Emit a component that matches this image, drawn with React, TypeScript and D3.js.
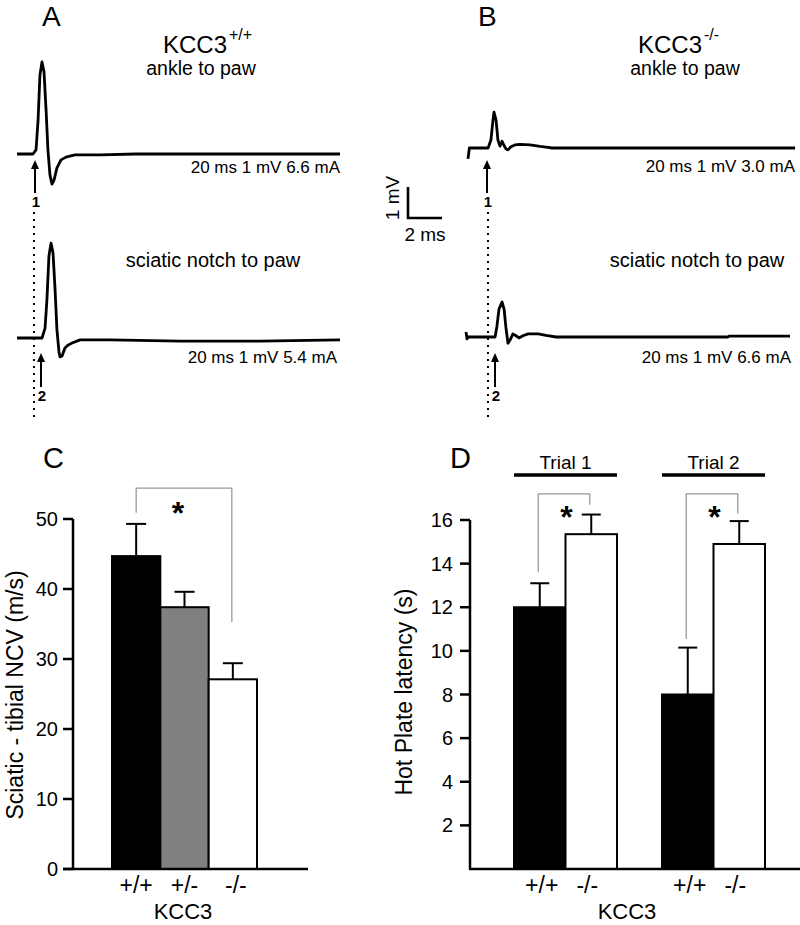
import React from 'react';
import * as d3 from 'd3';

const FONT = '"Liberation Sans", Arial, Helvetica, sans-serif';

// ---- Nerve conduction traces: [time (ms), amplitude (mV)] ----
const traceA1: [number, number][] = [
  [0, 0], [0.94, 0], [1.12, 0.13], [1.24, 1.1], [1.35, 2.55], [1.47, 2.97], [1.59, 2.65],
  [1.71, 1.42], [1.82, 0.13], [1.94, -0.68], [2.06, -0.97], [2.18, -0.84], [2.35, -0.45],
  [2.59, -0.19], [2.88, -0.1], [3.41, -0.03], [4.88, -0.03], [7.0, 0], [19.0, 0],
];
const traceA2: [number, number][] = [
  [0, 0], [1.47, 0], [1.65, 0.32], [1.76, 1.23], [1.88, 2.65], [2.0, 3.06], [2.12, 2.74],
  [2.24, 1.55], [2.35, 0.26], [2.47, -0.45], [2.53, -0.61], [2.65, -0.58], [2.82, -0.32],
  [3.0, -0.23], [3.24, -0.16], [3.71, -0.06], [5.5, -0.06], [9.6, -0.1], [14.3, -0.1], [19.0, -0.06],
];
const traceB1: [number, number][] = [
  [0, -0.35], [0.08, 0], [1.18, 0], [1.35, 0.26], [1.47, 0.9], [1.53, 1.16], [1.65, 0.9],
  [1.76, 0.26], [1.88, 0.06], [2.0, 0.22], [2.12, 0.08], [2.24, -0.03], [2.35, -0.06],
  [2.53, 0.04], [2.76, 0.1], [3.06, 0.12], [3.65, 0.1], [4.24, 0.05], [4.71, 0.02],
  [4.94, 0], [19.24, 0],
];
const traceB2: [number, number][] = [
  [0, 0.16], [0.06, -0.06], [0.12, 0], [1.71, 0], [1.82, 0.35], [1.94, 0.9], [2.12, 1.13],
  [2.24, 0.9], [2.35, 0.3], [2.47, -0.2], [2.59, -0.1], [2.76, 0.1], [2.94, 0.04],
  [3.12, -0.03], [3.35, 0.04], [3.65, 0.1], [4.24, 0.1], [4.71, 0.05], [5.3, 0],
  [15.4, 0], [15.5, 0.03], [19.06, 0.03],
];
const traceLabels = ['20 ms 1 mV 6.6 mA', '20 ms 1 mV 5.4 mA', '20 ms 1 mV 3.0 mA', '20 ms 1 mV 6.6 mA'];

// ---- Panel C: sciatic-tibial NCV ----
const ncvGenotypes = ['+/+', '+/-', '-/-'];
const ncvMeans = [44.7, 37.4, 27.1];
const ncvErrors = [4.6, 2.2, 2.3];
const ncvFills = ['#000000', '#808080', '#ffffff'];
const ncvTicks = [0, 10, 20, 30, 40, 50];
// significance bracket: [top, left foot, right foot] in m/s
const ncvBracket = [54.4, 50.9, 35.3];

// ---- Panel D: hot plate latency ----
const hpTrials = ['Trial 1', 'Trial 2'];
const hpGenotypes = ['+/+', '-/-'];
const hpTrial1Means = [12.0, 15.35];
const hpTrial1Errors = [1.1, 0.9];
const hpTrial2Means = [8.0, 14.9];
const hpTrial2Errors = [2.15, 1.05];
const hpFills = ['#000000', '#ffffff'];
const hpTicks = [2, 4, 6, 8, 10, 12, 14, 16];
// brackets per trial: [top, left foot, right foot] in s
const hpBracketTrial1 = [17.2, 13.6, 16.7];
const hpBracketTrial2 = [17.2, 10.55, 16.3];

const MS_PX = 17;
const MV_PX = 31;

function Trace({ data, x0, y0 }: { data: [number, number][]; x0: number; y0: number }) {
  const x = d3.scaleLinear().domain([0, 1]).range([x0, x0 + MS_PX]);
  const y = d3.scaleLinear().domain([0, 1]).range([y0, y0 - MV_PX]);
  const line = d3.line<[number, number]>().x((d) => x(d[0])).y((d) => y(d[1]));
  return <path d={line(data) || ''} fill="none" stroke="#000" strokeWidth={2.8} strokeLinejoin="round" />;
}

function Arrow({ x, tip, bottom, label }: { x: number; tip: number; bottom: number; label: string }) {
  return (
    <g>
      <line x1={x} x2={x} y1={bottom} y2={tip + 6} stroke="#000" strokeWidth={2} />
      <path d={`M${x},${tip} L${x - 4},${tip + 9} L${x + 4},${tip + 9} Z`} fill="#000" />
      <text x={x + 1} y={bottom + 14} fontSize={15} fontWeight="bold" textAnchor="middle" fontFamily={FONT}>
        {label}
      </text>
    </g>
  );
}

function Dotted({ x, y1, y2 }: { x: number; y1: number; y2: number }) {
  return <line x1={x} x2={x} y1={y1} y2={y2} stroke="#000" strokeWidth={2} strokeDasharray="2,5" />;
}

function Bracket({ xl, xr, top, fl, fr }: { xl: number; xr: number; top: number; fl: number; fr: number }) {
  return (
    <path d={`M${xl},${fl} L${xl},${top} L${xr},${top} L${xr},${fr}`} fill="none" stroke="#999" strokeWidth={1.3} />
  );
}

function PanelC() {
  const y = d3.scaleLinear().domain([0, 50]).range([869, 519]);
  const x = d3.scaleBand<string>().domain(ncvGenotypes).range([112, 257]).paddingInner(0);
  const axisX = 73;
  const cap = 20;
  const bx = (g: string) => (x(g) as number) + x.bandwidth() / 2;
  return (
    <g fontFamily={FONT}>
      <text x={43} y={468} fontSize={29}>C</text>
      {ncvGenotypes.map((g, i) => (
        <g key={g}>
          <line x1={bx(g)} x2={bx(g)} y1={y(ncvMeans[i])} y2={y(ncvMeans[i] + ncvErrors[i])} stroke="#000" strokeWidth={2} />
          <line x1={bx(g) - cap / 2} x2={bx(g) + cap / 2} y1={y(ncvMeans[i] + ncvErrors[i])} y2={y(ncvMeans[i] + ncvErrors[i])} stroke="#000" strokeWidth={2} />
          <rect x={x(g)} y={y(ncvMeans[i])} width={x.bandwidth()} height={y(0) - y(ncvMeans[i])} fill={ncvFills[i]} stroke="#000" strokeWidth={2} />
        </g>
      ))}
      <line x1={axisX} x2={axisX} y1={y(50)} y2={y(0)} stroke="#000" strokeWidth={2.5} />
      <line x1={axisX - 10} x2={308} y1={y(0)} y2={y(0)} stroke="#000" strokeWidth={2.5} />
      {ncvTicks.map((t) => (
        <g key={t}>
          <line x1={axisX - 10} x2={axisX} y1={y(t)} y2={y(t)} stroke="#000" strokeWidth={2.5} />
          <text x={axisX - 15} y={y(t) + 7} fontSize={20} textAnchor="end">{t}</text>
        </g>
      ))}
      {ncvGenotypes.map((g, i) => (
        <text key={g} x={bx(g) + (i === 2 ? 3 : 0)} y={893} fontSize={23} textAnchor="middle">{g}</text>
      ))}
      <text x={183} y={919} fontSize={22} textAnchor="middle">KCC3</text>
      <text transform={`translate(23,695) rotate(-90)`} fontSize={23} textAnchor="middle">Sciatic - tibial NCV (m/s)</text>
      <Bracket xl={bx('+/+')} xr={bx('-/-') - 1} top={y(ncvBracket[0])} fl={y(ncvBracket[1])} fr={y(ncvBracket[2])} />
      <text x={178} y={524} fontSize={32} fontWeight="bold" textAnchor="middle">*</text>
    </g>
  );
}

function PanelD() {
  const y = d3.scaleLinear().domain([0, 16]).range([869, 520]);
  const outer = d3.scaleBand<string>().domain(hpTrials).range([514, 765]).paddingInner(0.304);
  const inner = d3.scaleBand<string>().domain(hpGenotypes).range([0, outer.bandwidth()]);
  const axisX = 470;
  const cap = 19;
  const means = [hpTrial1Means, hpTrial2Means];
  const errs = [hpTrial1Errors, hpTrial2Errors];
  const brackets = [hpBracketTrial1, hpBracketTrial2];
  const cx = (t: string, g: string) => (outer(t) as number) + (inner(g) as number) + inner.bandwidth() / 2;
  return (
    <g fontFamily={FONT}>
      <text x={450} y={468} fontSize={29}>D</text>
      {hpTrials.map((t, ti) => (
        <g key={t}>
          <text x={(outer(t) as number) + outer.bandwidth() / 2} y={469} fontSize={19} textAnchor="middle">{t}</text>
          <line x1={outer(t) as number} x2={(outer(t) as number) + outer.bandwidth()} y1={475} y2={475} stroke="#000" strokeWidth={3.5} />
          {hpGenotypes.map((g, gi) => {
            const m = means[ti][gi];
            const e = errs[ti][gi];
            const c = cx(t, g);
            return (
              <g key={g}>
                <line x1={c} x2={c} y1={y(m)} y2={y(m + e)} stroke="#000" strokeWidth={2} />
                <line x1={c - cap / 2} x2={c + cap / 2} y1={y(m + e)} y2={y(m + e)} stroke="#000" strokeWidth={2} />
                <rect x={(outer(t) as number) + (inner(g) as number)} y={y(m)} width={inner.bandwidth()} height={y(0) - y(m)} fill={hpFills[gi]} stroke="#000" strokeWidth={2} />
                <text x={c + (gi === 0 ? 2 : -4)} y={893} fontSize={23} textAnchor="middle">{g}</text>
              </g>
            );
          })}
          <Bracket xl={cx(t, '+/+') - 1.5} xr={cx(t, '-/-') - 1.5} top={y(brackets[ti][0])} fl={y(brackets[ti][1])} fr={y(brackets[ti][2])} />
          <text x={(cx(t, '+/+') + cx(t, '-/-')) / 2 + 1} y={528} fontSize={32} fontWeight="bold" textAnchor="middle">*</text>
        </g>
      ))}
      <line x1={axisX} x2={axisX} y1={y(16)} y2={y(0)} stroke="#000" strokeWidth={2.5} />
      <line x1={axisX - 1} x2={800} y1={y(0)} y2={y(0)} stroke="#000" strokeWidth={2.5} />
      {hpTicks.map((t) => (
        <g key={t}>
          <line x1={axisX - 10} x2={axisX} y1={y(t)} y2={y(t)} stroke="#000" strokeWidth={2.5} />
          <text x={axisX - 17} y={y(t) + 7} fontSize={20} textAnchor="end">{t}</text>
        </g>
      ))}
      <text x={627} y={919} fontSize={22} textAnchor="middle">KCC3</text>
      <text transform={`translate(412,692) rotate(-90)`} fontSize={23} textAnchor="middle">Hot Plate latency (s)</text>
    </g>
  );
}

function PanelAB() {
  return (
    <g fontFamily={FONT} fill="#000">
      {/* Panel A */}
      <text x={42} y={26} fontSize={28}>A</text>
      <text x={163} y={53} fontSize={24}>KCC3</text>
      <text x={229} y={40} fontSize={16}>+/+</text>
      <text x={201} y={75} fontSize={19.5} textAnchor="middle">ankle to paw</text>
      <Trace data={traceA1} x0={17} y0={154} />
      <text x={340} y={173} fontSize={17} textAnchor="end">{traceLabels[0]}</text>
      <Arrow x={35} tip={160} bottom={193} label="1" />
      <Dotted x={34} y1={212} y2={421} />
      <text x={213} y={267} fontSize={20} textAnchor="middle">sciatic notch to paw</text>
      <Trace data={traceA2} x0={17} y0={338} />
      <text x={337} y={363} fontSize={17} textAnchor="end">{traceLabels[1]}</text>
      <Arrow x={41} tip={353} bottom={387} label="2" />

      {/* Panel B */}
      <text x={478} y={26} fontSize={28}>B</text>
      <text x={638} y={53} fontSize={24}>KCC3</text>
      <text x={704} y={40} fontSize={16}>-/-</text>
      <text x={685} y={75} fontSize={19.5} textAnchor="middle">ankle to paw</text>
      <Trace data={traceB1} x0={468} y0={148} />
      <text x={795} y={172} fontSize={17} textAnchor="end">{traceLabels[2]}</text>
      <Arrow x={487} tip={160} bottom={193} label="1" />
      <Dotted x={488} y1={212} y2={421} />
      <text x={697} y={267} fontSize={20} textAnchor="middle">sciatic notch to paw</text>
      <Trace data={traceB2} x0={466} y0={337} />
      <text x={791} y={363} fontSize={17} textAnchor="end">{traceLabels[3]}</text>
      <Arrow x={495} tip={353} bottom={387} label="2" />

      {/* Scale bar: 1 mV, 2 ms */}
      <path d={`M408,${218 - MV_PX} L408,218 L${408 + 2 * MS_PX},218`} fill="none" stroke="#000" strokeWidth={2.6} />
      <text transform="translate(399,198) rotate(-90)" fontSize={19} textAnchor="middle">1 mV</text>
      <text x={425} y={241} fontSize={19} textAnchor="middle">2 ms</text>
    </g>
  );
}

export default function App() {
  return (
    <svg width={800} height={925} viewBox="0 0 800 925" style={{ position: 'absolute', left: 0, top: 0, background: '#fff' }}>
      <rect width={800} height={925} fill="#fff" />
      <PanelAB />
      <PanelC />
      <PanelD />
    </svg>
  );
}
